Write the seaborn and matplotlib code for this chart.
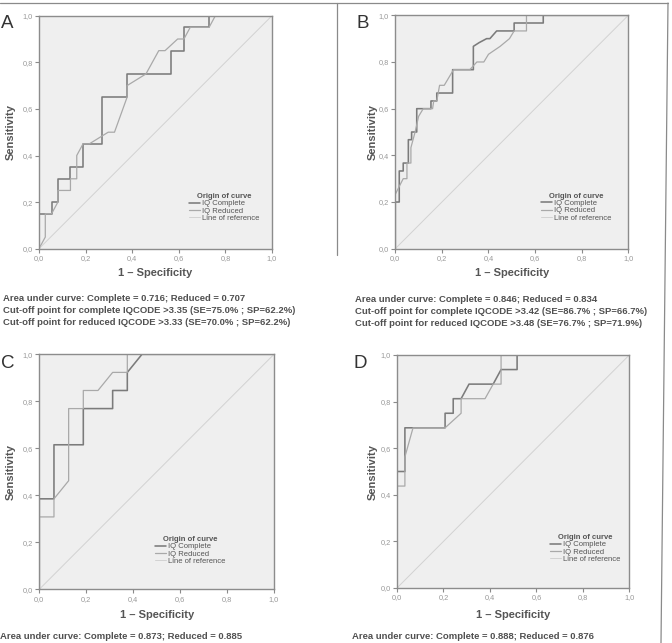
import matplotlib.pyplot as plt
import seaborn as sns
import pandas as pd
from matplotlib.lines import Line2D

sns.set_theme(style='white')
plt.rcParams['font.family'] = ['Liberation Sans', 'DejaVu Sans']
plt.rcParams['axes.unicode_minus'] = False

W, H = 672, 643

curve_names = ['IQ Complete', 'IQ Reduced', 'Line of reference']
tick_vals = [0.0, 0.2, 0.4, 0.6, 0.8, 1.0]
tick_labels = ['0,0', '0,2', '0,4', '0,6', '0,8', '1,0']
ref_x = [0.0, 1.0]
ref_y = [0.0, 1.0]

# A
a_comp_x = [0, 0, 0.054, 0.054, 0.081, 0.081, 0.135, 0.135, 0.189, 0.189, 0.270, 0.270,
            0.378, 0.378, 0.568, 0.568, 0.622, 0.622, 0.730, 0.730, 1.0]
a_comp_y = [0, 0.15, 0.15, 0.20, 0.20, 0.30, 0.30, 0.35, 0.35, 0.45, 0.45, 0.65,
            0.65, 0.75, 0.75, 0.85, 0.85, 0.95, 0.95, 1.0, 1.0]
a_red_x = [0, 0.027, 0.027, 0.054, 0.081, 0.081, 0.135, 0.135, 0.162, 0.162, 0.189, 0.216,
           0.297, 0.324, 0.378, 0.378, 0.459, 0.514, 0.541, 0.595, 0.622, 0.649, 0.730, 0.757, 1.0]
a_red_y = [0, 0.05, 0.15, 0.15, 0.20, 0.25, 0.25, 0.30, 0.30, 0.40, 0.45, 0.45,
           0.50, 0.50, 0.65, 0.70, 0.75, 0.85, 0.85, 0.90, 0.90, 0.95, 0.95, 1.0, 1.0]
a_text = ['Area under curve: Complete = 0.716; Reduced = 0.707',
          'Cut-off point for complete IQCODE >3.35 (SE=75.0% ; SP=62.2%)',
          'Cut-off point for reduced IQCODE >3.33 (SE=70.0% ; SP=62.2%)']

# B
b_comp_x = [0, 0, 0.017, 0.017, 0.034, 0.034, 0.056, 0.056, 0.070, 0.070, 0.092, 0.092,
            0.153, 0.153, 0.178, 0.178, 0.246, 0.246, 0.335, 0.335, 0.360, 0.392, 0.406,
            0.435, 0.510, 0.510, 0.635, 0.635, 1.0]
b_comp_y = [0, 0.20, 0.20, 0.333, 0.333, 0.367, 0.367, 0.467, 0.467, 0.50, 0.50, 0.60,
            0.60, 0.633, 0.633, 0.667, 0.667, 0.767, 0.767, 0.867, 0.883, 0.90, 0.90,
            0.933, 0.933, 0.967, 0.967, 1.0, 1.0]
b_red_x = [0, 0, 0.017, 0.034, 0.050, 0.050, 0.067, 0.067, 0.085, 0.100, 0.120, 0.160,
           0.165, 0.178, 0.190, 0.210, 0.250, 0.320, 0.350, 0.380, 0.400, 0.450, 0.490,
           0.510, 0.563, 0.563, 1.0]
b_red_y = [0, 0.233, 0.267, 0.30, 0.30, 0.367, 0.367, 0.433, 0.50, 0.567, 0.60, 0.60,
           0.633, 0.633, 0.70, 0.70, 0.767, 0.767, 0.80, 0.80, 0.833, 0.867, 0.90,
           0.933, 0.933, 1.0, 1.0]
b_text = ['Area under curve: Complete = 0.846; Reduced = 0.834',
          'Cut-off point for complete IQCODE >3.42 (SE=86.7% ; SP=66.7%)',
          'Cut-off point for reduced IQCODE >3.48 (SE=76.7% ; SP=71.9%)']

# C
c_comp_x = [0, 0, 0.0625, 0.0625, 0.1875, 0.1875, 0.3125, 0.3125, 0.375, 0.375, 0.4375, 1.0]
c_comp_y = [0, 0.385, 0.385, 0.615, 0.615, 0.769, 0.769, 0.846, 0.846, 0.923, 1.0, 1.0]
c_red_x = [0, 0, 0.0625, 0.0625, 0.125, 0.125, 0.1875, 0.1875, 0.25, 0.3125, 0.375, 0.375, 1.0]
c_red_y = [0, 0.308, 0.308, 0.385, 0.462, 0.769, 0.769, 0.846, 0.846, 0.923, 0.923, 1.0, 1.0]
c_text = ['Area under curve: Complete = 0.873; Reduced = 0.885']

# D
d_comp_x = [0, 0, 0.034, 0.034, 0.207, 0.207, 0.242, 0.242, 0.276, 0.310, 0.414, 0.448,
            0.517, 0.517, 1.0]
d_comp_y = [0, 0.50, 0.50, 0.6875, 0.6875, 0.75, 0.75, 0.8125, 0.8125, 0.875, 0.875,
            0.9375, 0.9375, 1.0, 1.0]
d_red_x = [0, 0, 0.034, 0.034, 0.069, 0.207, 0.276, 0.276, 0.379, 0.414, 0.448, 0.448, 1.0]
d_red_y = [0, 0.4375, 0.4375, 0.5625, 0.6875, 0.6875, 0.75, 0.8125, 0.8125, 0.875, 0.875,
           1.0, 1.0]
d_text = ['Area under curve: Complete = 0.888; Reduced = 0.876']

# layout in pixels: axes box (left, top, right, bottom), letter, text start, label offsets, legend anchor
panels = [
    dict(letter='A', comp=(a_comp_x, a_comp_y), red=(a_red_x, a_red_y), text=a_text,
         box=(39, 15.7, 272, 248.7), letter_xy=(0.5, 28), text_xy=(2.7, 301.3),
         xlab=-0.103, ylab=-0.121, leg=(0.644, 0.2395)),
    dict(letter='B', comp=(b_comp_x, b_comp_y), red=(b_red_x, b_red_y), text=b_text,
         box=(395.3, 15.3, 628.3, 248.7), letter_xy=(356, 28.3), text_xy=(355, 301.6),
         xlab=-0.103, ylab=-0.097, leg=(0.625, 0.2395)),
    dict(letter='C', comp=(c_comp_x, c_comp_y), red=(c_red_x, c_red_y), text=c_text,
         box=(39.3, 354.3, 274, 589.3), letter_xy=(0.5, 368), text_xy=(0.5, 639.3),
         xlab=-0.108, ylab=-0.122, leg=(0.493, 0.227)),
    dict(letter='D', comp=(d_comp_x, d_comp_y), red=(d_red_x, d_red_y), text=d_text,
         box=(397, 355, 629.3, 588), letter_xy=(353.5, 368), text_xy=(351.7, 639.3),
         xlab=-0.115, ylab=-0.105, leg=(0.66, 0.232)),
]

palette = {'IQ Complete': '#7b7b7b', 'IQ Reduced': '#a9a9a9', 'Line of reference': '#d2d2d2'}
sizes = {'IQ Complete': 1.15, 'IQ Reduced': 0.9, 'Line of reference': 0.7}
text_col = '#505050'

fig = plt.figure(figsize=(W / 100, H / 100), dpi=100)

for p in panels:
    l, t, r, b = p['box']
    ax = fig.add_axes([l / W, 1 - b / H, (r - l) / W, (b - t) / H])
    df = pd.concat([
        pd.DataFrame({'fpr': p['comp'][0], 'tpr': p['comp'][1], 'curve': curve_names[0]}),
        pd.DataFrame({'fpr': p['red'][0], 'tpr': p['red'][1], 'curve': curve_names[1]}),
        pd.DataFrame({'fpr': ref_x, 'tpr': ref_y, 'curve': curve_names[2]}),
    ], ignore_index=True)
    sns.lineplot(data=df, x='fpr', y='tpr', hue='curve', size='curve', hue_order=curve_names,
                 size_order=curve_names, palette=palette, sizes=sizes, sort=False,
                 estimator=None, ax=ax)
    ax.set_facecolor('#efefef')
    ax.set_xlim(0, 1)
    ax.set_ylim(0, 1)
    ax.set_xticks(tick_vals)
    ax.set_xticklabels(tick_labels)
    ax.set_yticks(tick_vals)
    ax.set_yticklabels(tick_labels)
    ax.tick_params(axis='both', which='major', direction='out', length=3, width=0.8,
                   color='#8a8a8a', labelsize=5.3, labelcolor='#999999', pad=1.5,
                   left=True, bottom=True)
    for s in ax.spines.values():
        s.set_color('#8c8c8c')
        s.set_linewidth(1.0)
    ax.set_xlabel('1 – Specificity', fontsize=8, fontweight='bold', color='#555555', va='center')
    ax.set_ylabel('Sensitivity', fontsize=8, fontweight='bold', color='#555555', va='center')
    ax.xaxis.set_label_coords(0.5, p['xlab'])
    ax.yaxis.set_label_coords(p['ylab'], 0.5)

    handles, labels = ax.get_legend_handles_labels()
    leg = ax.legend(handles, labels, title='Origin of curve', frameon=False,
                    loc='upper left', bbox_to_anchor=p['leg'], fontsize=5.5,
                    title_fontproperties={'weight': 'bold', 'size': 5.5},
                    handlelength=1.4, handletextpad=0.25, labelspacing=0.0,
                    borderpad=0, borderaxespad=0)
    for txt in leg.get_texts():
        txt.set_color('#555555')
    leg.get_title().set_color('#555555')

    fig.text(p['letter_xy'][0] / W, 1 - p['letter_xy'][1] / H, p['letter'],
             fontsize=13.5, color='#333333', ha='left', va='baseline')
    tx, ty = p['text_xy']
    for i, line in enumerate(p['text']):
        fig.text(tx / W, 1 - (ty + 12 * i) / H, line, fontsize=6.8, fontweight='bold',
                 color=text_col, ha='left', va='baseline')

# frame lines of the original figure
fig.add_artist(Line2D([0, 668 / W], [1 - 3 / H, 1 - 3 / H], color='#8a8a8a', lw=0.9))
fig.add_artist(Line2D([668 / W, 661 / W], [1 - 3 / H, 0], color='#8a8a8a', lw=0.9))
fig.add_artist(Line2D([336.5 / W, 336.5 / W], [1 - 3 / H, 1 - 255 / H], color='#8a8a8a', lw=0.9))

fig.savefig('out.png', dpi=100)
